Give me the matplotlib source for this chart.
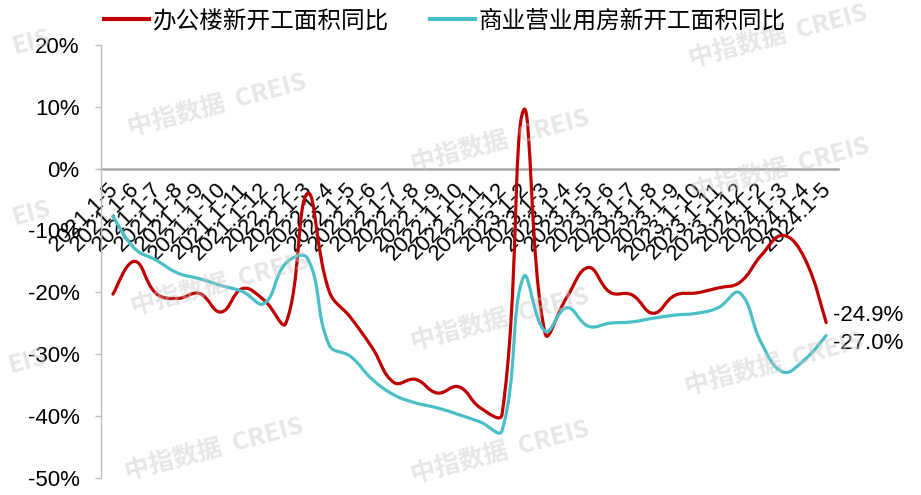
import matplotlib
matplotlib.use("Agg")
import matplotlib.pyplot as plt
from matplotlib.path import Path
from matplotlib.patches import PathPatch
from matplotlib.lines import Line2D
import numpy as np

plt.rcParams['font.family'] = ['Liberation Sans', 'Noto Sans CJK SC', 'DejaVu Sans']

labels = (['2021.1-%d' % m for m in range(5, 13)] +
          ['2022.1-%d' % m for m in range(2, 13)] +
          ['2023.1-%d' % m for m in range(2, 13)] +
          ['2024.1-%d' % m for m in range(2, 6)])

office = [-20.3, -15.0, -20.2, -21.0, -20.2, -23.2, -19.4, -21.3,
          -25.0, -4.0, -19.8, -24.1, -29.0, -34.6, -34.1, -36.3, -35.3, -38.7, -39.8,
          9.5, -26.7, -20.8, -16.0, -20.0, -20.4, -23.4, -20.5, -20.1, -19.3, -18.4,
          -14.0, -10.8, -14.5, -24.9]

commercial = [-7.7, -12.9, -14.8, -16.9, -17.8, -18.9, -19.9, -21.8,
              -15.3, -14.5, -28.5, -30.4, -34.1, -36.6, -37.9, -38.7, -39.8, -41.0, -42.4,
              -17.5, -26.3, -22.5, -25.5, -25.0, -24.8, -24.2, -23.7, -23.4, -22.5, -20.1,
              -28.2, -32.9, -30.9, -27.0]

series_names = ['办公楼新开工面积同比', '商业营业用房新开工面积同比']
colors = ['#C00000', '#4BBFC8']

fig = plt.figure(figsize=(9.21, 4.95), dpi=100)
ax = fig.add_axes([0.1097, 0.035, 0.8003, 0.874])
ax.set_xlim(-0.55, len(labels) - 0.45)
ax.set_ylim(-50, 20)


def smooth_path(xs, ys, f=0.42):
    # Excel-like smoothing in display space: Catmull-Rom tangents split
    # proportionally to the adjacent segment lengths.
    trans = ax.transData
    pts = trans.transform(np.column_stack([xs, ys]).astype(float))
    n = len(pts)
    d = [np.hypot(*(pts[i + 1] - pts[i])) for i in range(n - 1)]
    verts = [pts[0]]
    codes = [Path.MOVETO]
    for i in range(n - 1):
        p1, p2 = pts[i], pts[i + 1]
        p0 = pts[i - 1] if i > 0 else p1
        p3 = pts[i + 2] if i + 2 < n else p2
        dprev = d[i - 1] if i > 0 else d[i]
        dnext = d[i + 1] if i + 2 < n else d[i]
        c1 = p1 + (p2 - p0) * f * d[i] / (dprev + d[i])
        c2 = p2 - (p3 - p1) * f * d[i] / (d[i] + dnext)
        verts += [c1, c2, p2]
        codes += [Path.CURVE4] * 3
    verts = trans.inverted().transform(np.array(verts))
    return Path(verts, codes)


x = np.arange(len(labels))
for vals, col in zip([office, commercial], colors):
    patch = PathPatch(smooth_path(x, vals), facecolor='none', edgecolor=col,
                      lw=2.3, zorder=3, capstyle='round', joinstyle='round')
    ax.add_patch(patch)

ax.set_yticks(np.arange(-50, 21, 10))
ax.set_yticklabels(['%d%%' % v for v in range(-50, 21, 10)], fontsize=16)
ax.tick_params(axis='y', length=4.5, width=1, color='#BFBFBF', pad=11)
ax.set_xticks([])

for s in ['top', 'right']:
    ax.spines[s].set_visible(False)
ax.spines['left'].set_color('#BFBFBF')
ax.spines['left'].set_linewidth(1)
ax.spines['bottom'].set_position(('data', 0))
ax.spines['bottom'].set_color('#A6A6A6')
ax.spines['bottom'].set_linewidth(1.8)
ax.spines['bottom'].set_zorder(1)

for i, lab in enumerate(labels):
    ax.text(i - 0.25, -1.6, lab, rotation=45, ha='right', va='top',
            rotation_mode='anchor', fontsize=16, color='black', zorder=2)

ax.annotate('%.1f%%' % office[-1], (x[-1], office[-1]), xytext=(5, 5),
            textcoords='offset points', fontsize=16, ha='left', va='center')
ax.annotate('%.1f%%' % commercial[-1], (x[-1], commercial[-1]), xytext=(5, -6),
            textcoords='offset points', fontsize=16, ha='left', va='center')

handles = [Line2D([0], [0], color=c, lw=3) for c in colors]
fig.legend(handles, series_names, loc='center', bbox_to_anchor=(0.4826, 0.958),
           ncol=2, frameon=False, handlelength=1.9, handletextpad=0.15,
           columnspacing=1.75, prop={'family': ['Noto Sans CJK SC'], 'size': 17})

# watermark
wm_full = [(0.236, 0.785), (0.239, 0.424), (0.233, 0.09),
           (0.543, 0.713), (0.543, 0.354), (0.543, 0.085),
           (0.845, 0.925), (0.847, 0.657), (0.841, 0.263)]
for wx, wy in wm_full:
    fig.text(wx, wy, '中指数据  CREIS', fontsize=18, fontweight='bold', color='#C8C8C8',
             alpha=0.45, rotation=15, ha='center', va='center', zorder=0,
             family=['Noto Sans CJK SC', 'DejaVu Sans'])
for wx, wy in [(0.035, 0.915), (0.035, 0.57), (0.03, 0.27)]:
    fig.text(wx, wy, 'EIS', fontsize=18, fontweight='bold', color='#C8C8C8',
             alpha=0.45, rotation=15, ha='center', va='center', zorder=0,
             family=['Noto Sans CJK SC', 'DejaVu Sans'])

fig.savefig('out.png', dpi=100)
